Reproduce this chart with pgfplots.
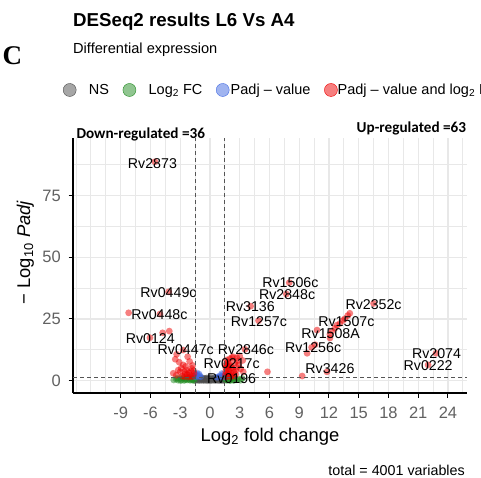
\documentclass[border=0pt]{standalone}
\usepackage{fontspec}
\setmainfont{Liberation Sans}
\newfontfamily\serifC{Liberation Serif}
\newfontfamily\calib{Carlito}
\usepackage{pgfplots}
\pgfplotsset{compat=1.18}

\definecolor{nsgrey}{RGB}{77,77,77}
\definecolor{fcgreen}{RGB}{34,139,34}
\definecolor{pblue}{RGB}{65,105,225}
\definecolor{bothred}{RGB}{238,0,0}
\definecolor{gridgrey}{RGB}{232,232,232}
\definecolor{cutgrey}{RGB}{85,85,85}

\newcommand\fs[1]{\fontsize{#1}{#1}\selectfont}

% one style per gene category: filled, half-transparent dots without outline
\pgfplotsset{
  volcano/.style={only marks, mark=*, mark size=3.4bp, forget plot,
    color=#1, mark options={draw opacity=0, fill=#1, fill opacity=0.5, line width=0pt}},
}

% gene categories, (log2 fold change, -log10 padj)
\pgfplotstableread{
x y
-1.45 0.10
-1.25 0.22
-1.05 0.05
-0.85 0.18
-0.65 0.08
-0.45 0.15
-0.25 0.02
-0.05 0.12
0.15 0.06
0.35 0.20
0.55 0.09
0.75 0.16
0.95 0.04
1.15 0.13
1.35 0.07
-1.35 0.45
-1.15 0.38
-0.95 0.50
-0.75 0.42
-0.55 0.35
-0.35 0.48
-0.15 0.40
0.05 0.33
0.25 0.46
0.45 0.39
0.65 0.52
0.85 0.36
1.05 0.44
1.25 0.49
1.45 0.37
-1.40 0.78
-1.20 0.70
-1.00 0.82
-0.80 0.74
-0.60 0.66
-0.40 0.80
-0.20 0.72
0.00 0.68
0.20 0.77
0.40 0.71
0.60 0.84
0.80 0.69
1.00 0.76
1.20 0.81
1.40 0.73
-1.30 1.10
-1.10 1.02
-0.90 1.18
-0.70 1.05
-0.50 0.98
-0.30 1.14
-0.10 1.07
0.10 1.20
0.30 1.00
0.50 1.12
0.70 1.04
0.90 1.16
1.10 0.97
1.30 1.09
}\nsdata

\pgfplotstableread{
x y
-3.65 0.30
-3.40 0.60
-3.20 0.20
-3.00 0.90
-2.85 0.40
-2.70 1.10
-2.60 0.10
-2.45 0.70
-2.30 0.30
-2.20 1.00
-2.10 0.50
-2.00 0.15
-1.90 0.80
-1.80 0.35
-1.70 1.15
-1.65 0.60
-1.60 0.05
-1.55 0.90
-2.50 0.45
-1.75 0.25
-2.95 0.05
-3.30 1.00
1.55 0.40
1.60 1.00
1.70 0.15
1.80 0.70
1.90 1.20
2.00 0.30
2.10 0.90
2.25 0.50
2.40 0.10
2.55 0.80
2.70 0.35
2.90 0.60
3.10 0.20
3.25 0.90
1.65 0.55
2.05 0.05
1.95 0.45
2.35 1.10
}\fcdata

\pgfplotstableread{
x y
-1.45 1.50
-1.35 2.20
-1.20 1.80
-1.10 2.70
-1.30 3.10
-0.95 1.60
-1.40 2.60
-1.05 2.10
0.85 1.50
1.00 2.00
1.15 1.70
1.30 2.50
1.40 1.90
1.20 2.90
1.45 1.40
0.70 1.40
}\pdata

\pgfplotstableread{
x y
-5.55 88.7
-4.16 36.0
-5.04 27.0
-8.20 27.5
-6.05 17.4
-4.77 19.4
-4.10 20.1
-2.70 12.4
-2.25 9.7
-3.50 8.7
-3.36 10.7
-3.20 4.3
-2.70 6.4
-2.35 4.3
-1.85 5.0
-3.00 3.6
-2.00 2.3
-2.50 2.8
-2.80 1.9
-1.70 1.8
-2.15 3.3
-1.60 2.9
-2.90 5.1
-2.45 5.8
-1.90 3.9
-2.60 1.6
-3.40 2.2
-1.75 6.2
-2.20 1.5
-3.10 7.5
-2.05 7.8
-1.65 4.1
-2.55 3.7
-2.30 2.4
-1.95 1.6
-3.70 3.0
8.00 39.7
7.70 35.1
4.10 30.2
4.90 24.3
16.50 31.3
14.10 27.3
13.90 26.4
13.60 25.1
13.40 24.4
13.10 23.2
12.80 22.5
12.60 21.3
12.30 20.1
12.10 17.3
12.10 18.8
10.80 20.5
10.60 14.6
10.25 13.5
9.80 11.1
11.80 3.6
9.30 1.9
22.80 11.1
22.00 6.4
5.80 3.6
3.53 12.7
2.35 9.7
3.00 10.0
3.36 3.6
2.70 5.4
2.70 9.3
1.70 7.0
1.60 5.2
1.90 4.1
2.10 6.0
1.55 2.5
1.80 3.0
2.20 2.2
1.65 8.4
2.00 8.9
2.40 3.5
1.75 1.8
2.30 4.8
1.95 6.8
2.50 7.2
1.60 3.8
2.10 1.6
1.85 5.7
2.60 2.6
2.05 3.3
1.70 4.6
2.90 6.5
3.10 4.8
3.30 8.2
2.75 8.0
1.55 6.3
2.20 9.4
1.60 1.5
2.45 1.9
1.90 2.7
2.15 5.3
1.70 6.1
2.60 4.1
1.80 7.6
}\bothdata

\begin{document}
\begin{tikzpicture}
\useasboundingbox (0,0) rectangle (481bp,478bp);
\clip (0,0) rectangle (481bp,478bp);

\begin{axis}[
  at={(73bp,85bp)}, anchor=south west,
  scale only axis, width=394bp, height=254.7bp,
  xmin=-13.81, xmax=25.92, ymin=-4.98, ymax=98.2,
  axis x line*=bottom, axis y line*=left,
  axis line style={line width=1.1bp, -},
  xtick={-9,-6,...,24}, ytick={0,25,50,75},
  minor xtick={-13.5,-12,...,25.5},
  minor ytick={12.5,37.5,62.5,87.5},
  grid=both,
  major grid style={gridgrey, line width=1.3bp},
  minor grid style={gridgrey, line width=1.0bp},
  tick align=outside, major tick length=4.5bp, minor tick length=0pt,
  tick style={black, line width=1bp},
  /pgf/number format/assume math mode=true,
  ticklabel style={font=\fs{16.5bp}, text=black!62, inner sep=0pt},
  xticklabel style={anchor=north, yshift=-9bp},
  yticklabel style={anchor=east, xshift=-7.5bp},
  clip mode=individual,
  legend columns=4,
  legend style={
    at={(axis description cs:-0.0259,1.1897)}, anchor=west,
    draw=none, fill=none, inner sep=0pt,
    nodes={inner sep=0pt, font=\fs{14.5bp}},
    /tikz/every even column/.append style={column sep=13.7bp},
  },
  legend cell align=left,
]
\addplot[volcano=nsgrey] table {\nsdata};
\addplot[volcano=fcgreen] table {\fcdata};
\addplot[volcano=pblue] table {\pdata};
\addplot[volcano=bothred] table {\bothdata};

% cut-off lines
\draw[cutgrey, line width=0.8bp, dash pattern=on 4bp off 3bp]
  (axis cs:-1.5,-4.98) -- (axis cs:-1.5,98.2);
\draw[cutgrey, line width=0.8bp, dash pattern=on 4bp off 3bp]
  (axis cs:1.5,-4.98) -- (axis cs:1.5,98.2);
\draw[cutgrey, line width=0.8bp, dash pattern=on 4bp off 3bp]
  (axis cs:-13.81,1.3) -- (axis cs:25.92,1.3);

% gene labels
\begin{scope}[every node/.style={font=\fs{14.2bp}, inner sep=0pt, anchor=center}]
\node at (axis cs:-5.8,88) {Rv2873};
\node at (axis cs:-4.18,35.6) {Rv0449c};
\node at (axis cs:-5.09,26.6) {Rv0448c};
\node at (axis cs:-6.02,17.2) {Rv0124};
\node at (axis cs:-2.44,12.4) {Rv0447c};
\node at (axis cs:4.07,30) {Rv3136};
\node at (axis cs:4.94,23.9) {Rv1257c};
\node at (axis cs:3.63,12.4) {Rv2846c};
\node at (axis cs:2.19,6.8) {Rv0217c};
\node at (axis cs:2.19,1.0) {Rv0196};
\node at (axis cs:8.11,39.7) {Rv1506c};
\node at (axis cs:7.78,34.7) {Rv2848c};
\node at (axis cs:16.5,31) {Rv2352c};
\node at (axis cs:13.76,23.9) {Rv1507c};
\node at (axis cs:12.17,18.9) {Rv1508A};
\node at (axis cs:10.4,13.5) {Rv1256c};
\node at (axis cs:12.1,5.0) {Rv3426};
\node at (axis cs:22.85,10.8) {Rv2074};
\node at (axis cs:22.0,6.0) {Rv0222};
\end{scope}

\addlegendimage{legend image code/.code={\fill[nsgrey, fill opacity=0.5] (0bp,0bp) circle (6.5bp);}}
\addlegendentry{\hspace{12.5bp}NS}
\addlegendimage{legend image code/.code={\fill[fcgreen, fill opacity=0.5] (0bp,0bp) circle (6.5bp);}}
\addlegendentry{\hspace{12.5bp}Log\textsubscript{2} FC}
\addlegendimage{legend image code/.code={\fill[pblue, fill opacity=0.5] (0bp,0bp) circle (6.5bp);}}
\addlegendentry{\hspace{1.3bp}Padj – value}
\addlegendimage{legend image code/.code={\fill[bothred, fill opacity=0.5] (0bp,0bp) circle (6.5bp);}}
\addlegendentry{Padj – value and log\textsubscript{2} FC}
\end{axis}

% titles and annotations
\node[anchor=base west, inner sep=0pt] at (73bp,451.3bp) {\fs{18.7bp}\bfseries DESeq2 results L6 Vs A4};
\node[anchor=base west, inner sep=0pt] at (73bp,424.7bp) {\fs{14.6bp}Differential expression};
\node[anchor=base west, inner sep=0pt] at (2.5bp,413bp) {\serifC\bfseries\fs{27bp}C};
\node[anchor=base west, inner sep=0pt] at (76.3bp,339.7bp) {\calib\bfseries\fs{15.2bp}Down-regulated =36};
\node[anchor=base east, inner sep=0pt] at (466.3bp,345.3bp) {\calib\bfseries\fs{15.2bp}Up-regulated =63};
\node[anchor=base, inner sep=0pt] at (270bp,36.3bp) {\fs{18.4bp}Log\textsubscript{2} fold change};
\node[anchor=base, inner sep=0pt, rotate=90] at (30bp,225.5bp) {\fs{18.4bp}− Log\textsubscript{10} \textit{Padj}};
\node[anchor=base east, inner sep=0pt] at (465bp,2.8bp) {\fs{14.3bp}total = 4001 variables};
\end{tikzpicture}
\end{document}
